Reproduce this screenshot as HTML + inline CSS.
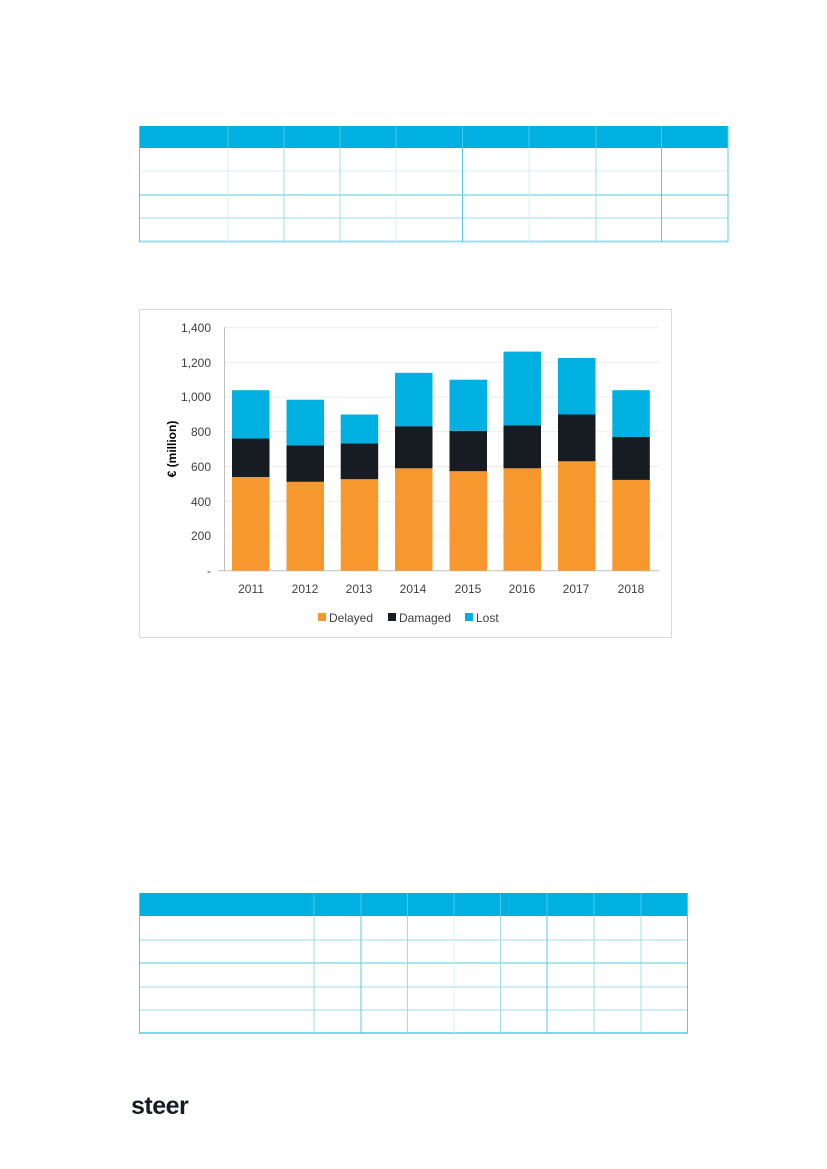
<!DOCTYPE html>
<html><head><meta charset="utf-8"><style>
html,body{margin:0;padding:0;background:#fff;}
svg{display:block;font-family:"Liberation Sans",sans-serif;}
</style></head><body>
<svg width="827" height="1169" viewBox="0 0 827 1169">
<!-- top table -->
<rect x="139" y="126" width="589" height="22" fill="#00b0e0"/>
<g stroke="#5bc8e6" stroke-width="1" fill="none">
<line x1="139" y1="171" x2="728" y2="171" stroke="#d6eff8"/>
<line x1="139" y1="195" x2="728" y2="195"/>
<line x1="139" y1="218" x2="728" y2="218" stroke="#9fdcee"/>
<line x1="139" y1="241.5" x2="728" y2="241.5" stroke="#9fdcee" stroke-width="2"/>
<line x1="139.5" y1="126" x2="139.5" y2="242"/>
<line x1="728" y1="126" x2="728" y2="242"/>
<line x1="228" y1="148" x2="228" y2="242" stroke="#d6eff8"/>
<line x1="284" y1="148" x2="284" y2="242" stroke="#9fdcee"/>
<line x1="340" y1="148" x2="340" y2="242" stroke="#9fdcee"/>
<line x1="396" y1="148" x2="396" y2="242" stroke="#d6eff8"/>
<line x1="462.5" y1="148" x2="462.5" y2="242"/>
<line x1="529" y1="148" x2="529" y2="242" stroke="#d6eff8"/>
<line x1="596" y1="148" x2="596" y2="242" stroke="#9fdcee"/>
<line x1="661.5" y1="148" x2="661.5" y2="242"/>
</g>
<g stroke="#4fc6e8" stroke-width="1">
<line x1="228" y1="126" x2="228" y2="148"/><line x1="284" y1="126" x2="284" y2="148"/><line x1="340" y1="126" x2="340" y2="148"/><line x1="396" y1="126" x2="396" y2="148"/><line x1="462.5" y1="126" x2="462.5" y2="148"/><line x1="529" y1="126" x2="529" y2="148"/><line x1="596" y1="126" x2="596" y2="148"/><line x1="661.5" y1="126" x2="661.5" y2="148"/>
</g>

<!-- chart frame -->
<rect x="139.5" y="309.5" width="532" height="328" fill="#fff" stroke="#d9d9d9"/>
<g stroke="#ececec">
<line x1="224" y1="327.7" x2="659" y2="327.7"/>
<line x1="224" y1="362.4" x2="659" y2="362.4"/>
<line x1="224" y1="397.1" x2="659" y2="397.1"/>
<line x1="224" y1="431.8" x2="659" y2="431.8"/>
<line x1="224" y1="466.5" x2="659" y2="466.5"/>
<line x1="224" y1="501.3" x2="659" y2="501.3"/>
<line x1="224" y1="536" x2="659" y2="536"/>
</g>
<g font-size="12" fill="#404040" text-anchor="end">
<text x="211" y="332">1,400</text><text x="211" y="367">1,200</text><text x="211" y="401">1,000</text><text x="211" y="436">800</text><text x="211" y="471">600</text><text x="211" y="506">400</text><text x="211" y="540">200</text><text x="211" y="575">-</text>
</g>
<text transform="translate(176,449) rotate(-90)" font-size="12" font-weight="bold" fill="#000" text-anchor="middle">€ (million)</text>
<g stroke="#bfbfbf">
<line x1="224.5" y1="327" x2="224.5" y2="571"/>
<line x1="224" y1="570.7" x2="659" y2="570.7"/>
<line x1="218" y1="570.7" x2="224" y2="570.7"/>
</g>
<g font-size="12" fill="#404040" text-anchor="middle">
<text x="251" y="593">2011</text><text x="305" y="593">2012</text><text x="359" y="593">2013</text><text x="413" y="593">2014</text><text x="468" y="593">2015</text><text x="522" y="593">2016</text><text x="576" y="593">2017</text><text x="631" y="593">2018</text>
</g>
<rect x="318" y="613" width="8" height="8" fill="#f7982f"/>
<text x="329" y="622" font-size="12" fill="#404040">Delayed</text>
<rect x="388" y="613" width="8" height="8" fill="#171b22"/>
<text x="399" y="622" font-size="12" fill="#404040">Damaged</text>
<rect x="465" y="613" width="8" height="8" fill="#00b0e0"/>
<text x="476" y="622" font-size="12" fill="#404040">Lost</text>

<g>
<rect x="232" y="477" width="37.5" height="93.7" fill="#f7982f"/><rect x="232" y="438.4" width="37.5" height="38.6" fill="#171b22"/><rect x="232" y="390.2" width="37.5" height="48.2" fill="#00b0e0"/>
<rect x="286.5" y="481.8" width="37.5" height="88.9" fill="#f7982f"/><rect x="286.5" y="445.4" width="37.5" height="36.4" fill="#171b22"/><rect x="286.5" y="399.7" width="37.5" height="45.7" fill="#00b0e0"/>
<rect x="340.7" y="479.2" width="37.5" height="91.5" fill="#f7982f"/><rect x="340.7" y="443.4" width="37.5" height="35.8" fill="#171b22"/><rect x="340.7" y="414.5" width="37.5" height="28.9" fill="#00b0e0"/>
<rect x="395" y="468.3" width="37.5" height="102.4" fill="#f7982f"/><rect x="395" y="426.2" width="37.5" height="42.1" fill="#171b22"/><rect x="395" y="372.8" width="37.5" height="53.4" fill="#00b0e0"/>
<rect x="449.5" y="471.2" width="37.5" height="99.5" fill="#f7982f"/><rect x="449.5" y="430.8" width="37.5" height="40.4" fill="#171b22"/><rect x="449.5" y="379.7" width="37.5" height="51.1" fill="#00b0e0"/>
<rect x="503.5" y="468.3" width="37.5" height="102.4" fill="#f7982f"/><rect x="503.5" y="425.4" width="37.5" height="42.9" fill="#171b22"/><rect x="503.5" y="351.6" width="37.5" height="73.8" fill="#00b0e0"/>
<rect x="558" y="461.3" width="37.5" height="109.4" fill="#f7982f"/><rect x="558" y="414.5" width="37.5" height="46.8" fill="#171b22"/><rect x="558" y="358" width="37.5" height="56.5" fill="#00b0e0"/>
<rect x="612.3" y="479.9" width="37.5" height="90.8" fill="#f7982f"/><rect x="612.3" y="437" width="37.5" height="42.9" fill="#171b22"/><rect x="612.3" y="390.2" width="37.5" height="46.8" fill="#00b0e0"/>
</g>

<!-- bottom table -->
<rect x="139" y="893" width="549" height="23" fill="#00b0e0"/>
<g stroke="#9fdcee" stroke-width="1">
<line x1="139" y1="940" x2="688" y2="940"/>
<line x1="139" y1="963" x2="688" y2="963" stroke="#5bc8e6"/>
<line x1="139" y1="987" x2="688" y2="987"/>
<line x1="139" y1="1010" x2="688" y2="1010"/>
<line x1="139" y1="1033" x2="688" y2="1033" stroke="#5bc8e6" stroke-width="1.5"/>
<line x1="139.5" y1="893" x2="139.5" y2="1033" stroke="#5bc8e6"/>
<line x1="687.5" y1="893" x2="687.5" y2="1033" stroke="#5bc8e6"/>
<line x1="314" y1="916" x2="314" y2="1033"/>
<line x1="361" y1="916" x2="361" y2="1033" stroke="#5bc8e6"/>
<line x1="407.5" y1="916" x2="407.5" y2="1033"/>
<line x1="454" y1="916" x2="454" y2="1033" stroke="#d6eff8"/>
<line x1="500.5" y1="916" x2="500.5" y2="1033"/>
<line x1="547" y1="916" x2="547" y2="1033" stroke="#5bc8e6"/>
<line x1="594" y1="916" x2="594" y2="1033"/>
<line x1="641" y1="916" x2="641" y2="1033"/>
</g>
<g stroke="#4fc6e8"><line x1="314" y1="893" x2="314" y2="916"/><line x1="361" y1="893" x2="361" y2="916"/><line x1="407.5" y1="893" x2="407.5" y2="916"/><line x1="454" y1="893" x2="454" y2="916"/><line x1="500.5" y1="893" x2="500.5" y2="916"/><line x1="547" y1="893" x2="547" y2="916"/><line x1="594" y1="893" x2="594" y2="916"/><line x1="641" y1="893" x2="641" y2="916"/></g>

<text x="131" y="1114" font-size="25" font-weight="bold" fill="#171b22" letter-spacing="-0.5">steer</text>
</svg>
</body></html>
